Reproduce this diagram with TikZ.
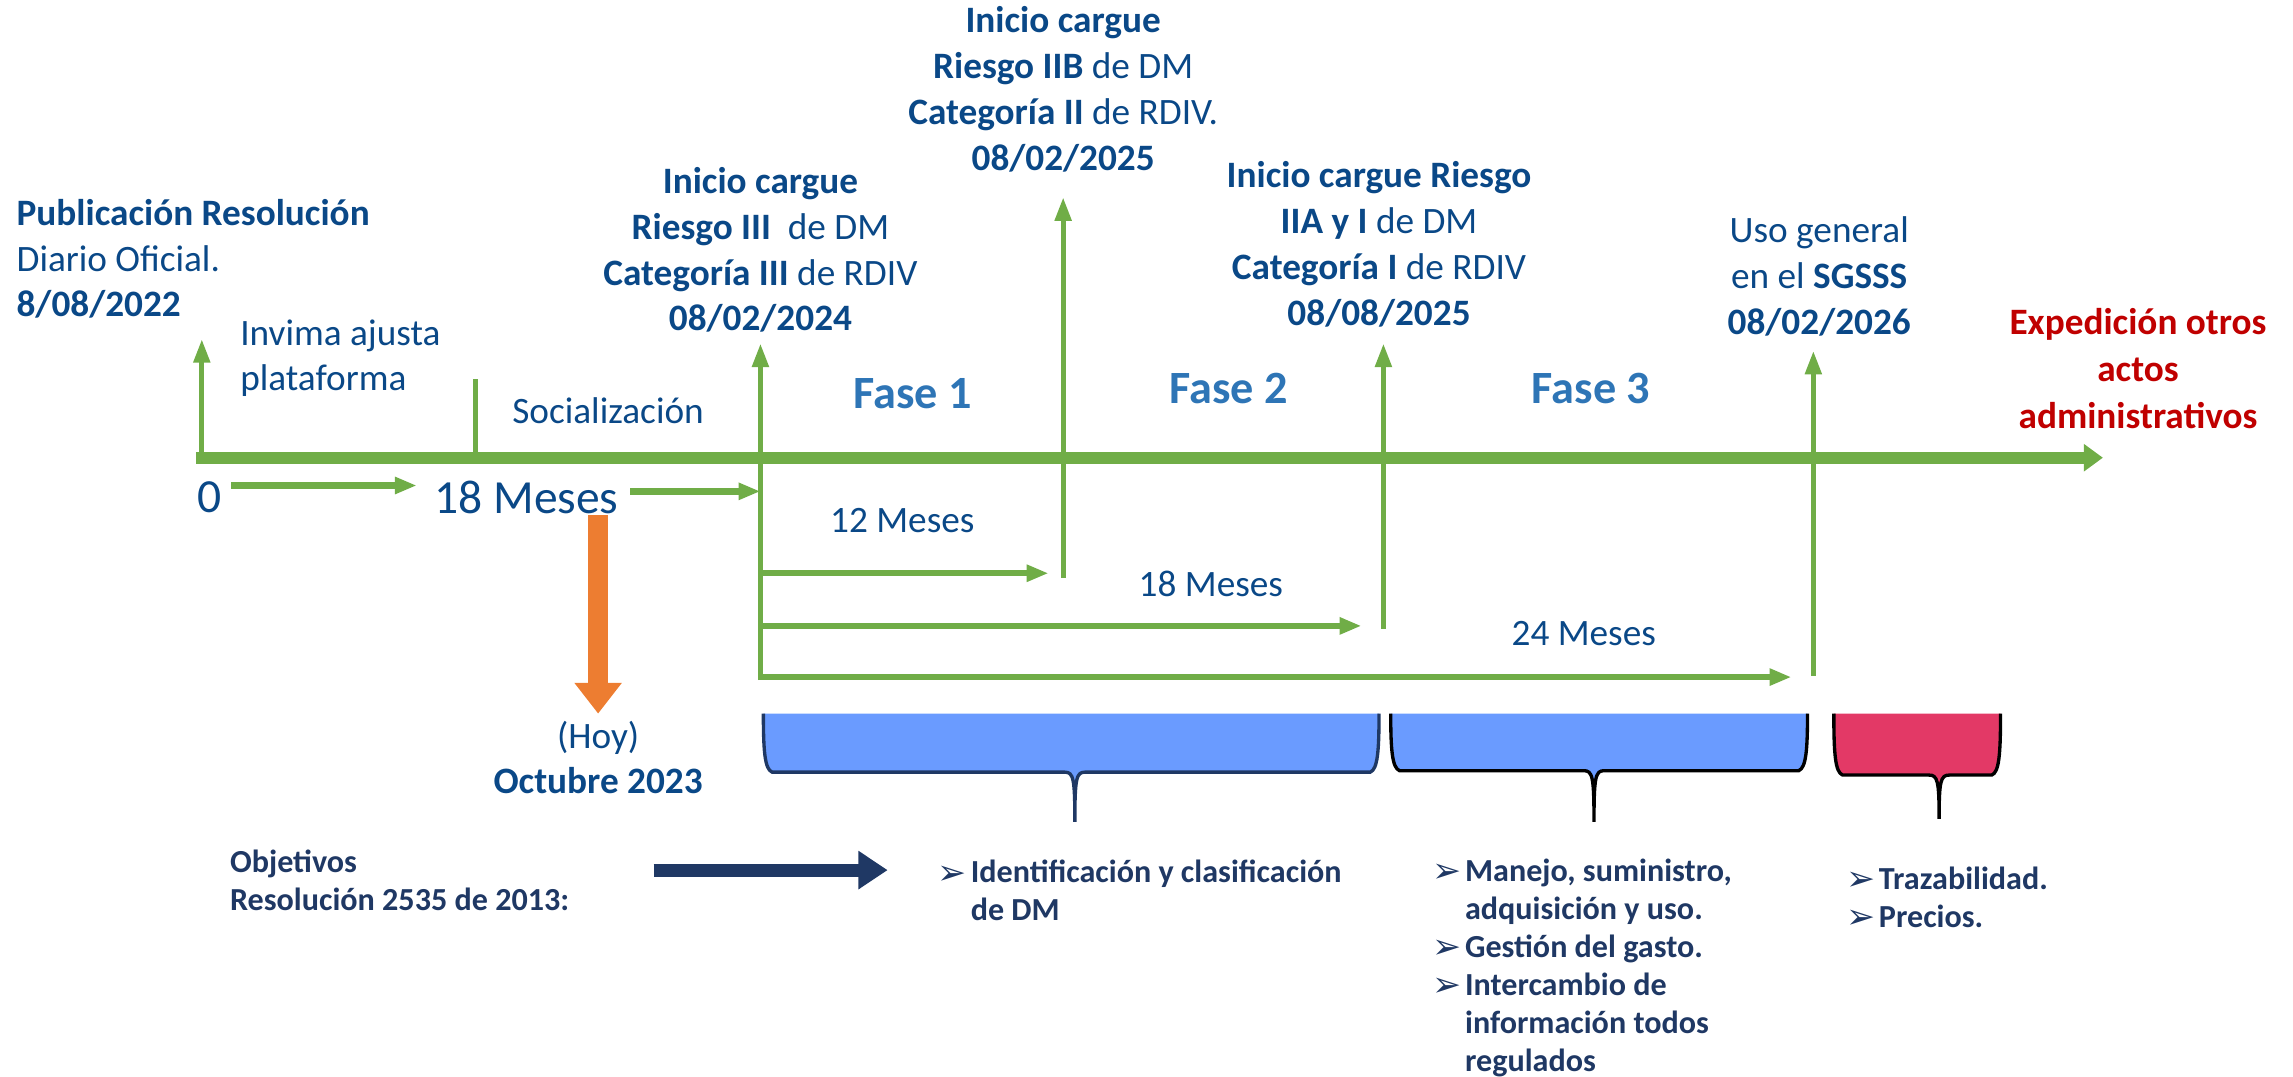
\documentclass[tikz,border=0pt]{standalone}
\usepackage{fontspec}
\setmainfont{Carlito}
\newfontfamily\symfont{DejaVu Sans}
\usetikzlibrary{arrows.meta}

\definecolor{txtblue}{RGB}{10,72,135}
\definecolor{fase}{RGB}{46,117,182}
\definecolor{tlgreen}{RGB}{112,173,71}
\definecolor{hoy}{RGB}{237,125,49}
\definecolor{expred}{RGB}{192,0,0}
\definecolor{navy}{RGB}{31,56,100}
\definecolor{cblue}{RGB}{106,155,255}
\definecolor{cpink}{RGB}{227,57,102}

% callout bracket: xL, xR, yTop, yBottom, xPointer, yPointer, fill, draw
\newcommand\callout[8]{%
  \path[fill=#7, draw=#8, line width=1.3pt]
    (#1,#3) .. controls (#1,#4-14) and (#1+1,#4-2) .. (#1+6,#4)
    -- (#5-7,#4) .. controls (#5-1,#4) and (#5,#4+4) .. (#5,#6)
    .. controls (#5,#4+4) and (#5+1,#4) .. (#5+7,#4)
    -- (#2-6,#4) .. controls (#2-1,#4-2) and (#2,#4-14) .. (#2,#3);}

\newcommand\bul{\raisebox{-0.5pt}{\symfont\fontsize{13.5}{14}\selectfont ➢}\hspace{1.5pt}}

\begin{document}
\begin{tikzpicture}[x=0.02cm,y=-0.02cm,
  every node/.style={inner sep=0pt, text=txtblue, align=center,
    font=\fontsize{14.5}{17.8}\selectfont},
  big/.style={font=\fontsize{18.5}{22}\selectfont},
  fasetxt/.style={font=\fontsize{18}{22}\selectfont\bfseries, text=fase},
  listtxt/.style={anchor=west, align=left, text=navy,
    font=\fontsize{12.5}{14.8}\selectfont\bfseries},
  mainline/.style={tlgreen, line width=4.5pt,
    -{Triangle[width=0.36cm,length=0.26cm]}},
  up/.style={tlgreen, line width=1.9pt,
    -{Triangle[width=0.22cm,length=0.32cm]}},
  dur/.style={tlgreen, line width=2.2pt,
    -{Triangle[width=0.22cm,length=0.3cm]}}]
\useasboundingbox (0,0) rectangle (1568,736);

% timeline
\coordinate (t0)  at (134,313);
\coordinate (tend) at (1438,313);
\draw[mainline] (t0) -- (tend);
\coordinate (pub-lo) at (138,313);
\coordinate (pub-hi) at (138,232);
\draw[up] (pub-lo) -- (pub-hi);
\coordinate (inv-lo) at (325,313);
\coordinate (inv-hi) at (325,259);
\draw[tlgreen, line width=1.9pt] (inv-lo) -- (inv-hi);

\foreach \n/\x/\ya/\yb in {a/520/465/235, b/727/395/135, c/946/430/235, d/1240/462/240}{
  \coordinate (\n-lo) at (\x,\ya);
  \coordinate (\n-hi) at (\x,\yb);
  \draw[up] (\n-lo) -- (\n-hi);
}

% milestone labels
\node[anchor=west, align=left] (pub) at (11,177)
  {\textbf{Publicación Resolución}\\Diario Oficial.\\\textbf{8/08/2022}};
\node[anchor=west, align=left] (invima) at (164,245) {Invima ajusta\\plataforma};
\node[anchor=west] (social) at (350,281) {Socialización};
\node (riesgo3) at (520,171)
  {\textbf{Inicio cargue}\\\textbf{Riesgo III}\ \ de DM\\\textbf{Categoría III} de RDIV\\\textbf{08/02/2024}};
\node (riesgo2b) at (727,61)
  {\textbf{Inicio cargue}\\\textbf{Riesgo IIB} de DM\\\textbf{Categoría II} de RDIV.\\\textbf{08/02/2025}};
\node (riesgo2a) at (943,167)
  {\textbf{Inicio cargue Riesgo}\\\textbf{IIA y I} de DM\\\textbf{Categoría I} de RDIV\\\textbf{08/08/2025}};
\node (uso) at (1244,189) {Uso general\\en el \textbf{SGSSS}\\\textbf{08/02/2026}};
\node[text=expred, font=\fontsize{14.5}{18.2}\selectfont\bfseries] (exped) at (1462,252)
  {Expedición otros\\actos\\administrativos};

\node[fasetxt] (f1) at (624,269) {Fase 1};
\node[fasetxt] (f2) at (840,266) {Fase 2};
\node[fasetxt] (f3) at (1088,266) {Fase 3};

% months
\node[big] (zero) at (143,340) {0};
\node[big] (m18) at (360,340) {18 Meses};
\coordinate (z-a) at (158,332);
\coordinate (z-b) at (285,332);
\draw[dur, line width=2.6pt] (z-a) -- (z-b);
\coordinate (m-a) at (431,336);
\coordinate (m-b) at (520,336);
\draw[dur, line width=2.6pt] (m-a) -- (m-b);

\coordinate (d12) at (717,392);
\coordinate (d18) at (931,428);
\coordinate (d24) at (1225,463);
\draw[dur] (a-lo |- d12) -- (d12);
\draw[dur] (a-lo |- d18) -- (d18);
\draw[dur] (a-lo |- d24) -- (d24);
\node (l12) at (617,356) {12 Meses};
\node (l18) at (828,399) {18 Meses};
\node (l24) at (1083,433) {24 Meses};

% today
\coordinate (hoy-a) at (409,352);
\coordinate (hoy-b) at (409,488);
\draw[hoy, line width=8pt, -{Triangle[width=0.62cm,length=0.42cm]}] (hoy-a) -- (hoy-b);
\node (hoy) at (409,518) {(Hoy)\\\textbf{Octubre 2023}};

% phase brackets
\callout{522}{943}{488}{528}{735}{562}{cblue}{navy}
\callout{951}{1236}{488}{527}{1090}{562}{cblue}{black}
\callout{1254}{1368}{488}{530}{1326}{560}{cpink}{black}

% objectives
\node[listtxt] (obj) at (157,602) {Objetivos\\Resolución 2535 de 2013:};
\coordinate (obj-a) at (447,595);
\coordinate (obj-b) at (607,595);
\draw[navy, line width=5pt, -{Triangle[width=0.5cm,length=0.4cm]}] (obj-a) -- (obj-b);

\node[listtxt] (list1) at (641,609)
  {\bul Identificación y clasificación\\\hphantom{\bul}de DM};
\node[listtxt] (list2) at (979,662)
  {\bul Manejo, suministro,\\\hphantom{\bul}adquisición y uso.\\\bul Gestión del gasto.\\
   \bul Intercambio de\\\hphantom{\bul}información todos\\\hphantom{\bul}regulados};
\node[listtxt] (list3) at (1262,614) {\bul Trazabilidad.\\\bul Precios.};
\end{tikzpicture}
\end{document}
